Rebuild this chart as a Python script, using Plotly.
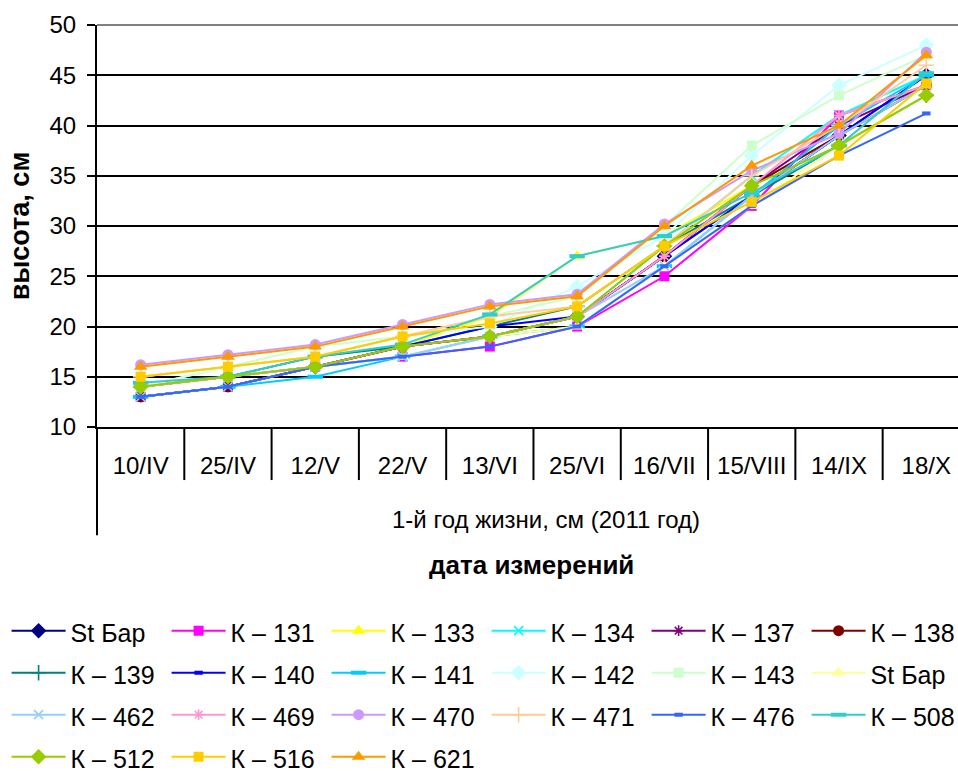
import plotly.graph_objects as go

dates = ["10/IV", "25/IV", "12/V", "22/V", "13/VI", "25/VI", "16/VII", "15/VIII", "14/IX", "18/X"]

names = ["St Бар", "К – 131", "К – 133", "К – 134", "К – 137", "К – 138",
         "К – 139", "К – 140", "К – 141", "К – 142", "К – 143", "St Бар",
         "К – 462", "К – 469", "К – 470", "К – 471", "К – 476", "К – 508",
         "К – 512", "К – 516", "К – 621"]

st_bar   = [14, 15, 16, 18, 19, 21, 27, 33, 39, 45]
k131     = [13, 14, 16, 17, 18, 20, 25, 32, 41, 44]
k133     = [14, 16, 17, 18, 21, 27, 29, 34, 39, 44]
k134     = [14, 15, 16, 17, 19, 21, 28, 35, 41, 45]
k137     = [13, 14, 16, 18, 19, 21, 27, 34, 40, 44]
k138     = [13, 14, 16, 18, 19, 21, 27, 34, 39, 44]
k139     = [14, 15, 17, 18, 20, 22, 28, 33, 38, 43]
k140     = [13, 14, 16, 18, 20, 21, 27, 33, 39, 45]
k141     = [13, 14, 15, 17, 19, 20, 26, 33, 40, 45]
k142     = [14, 16, 17, 19, 20, 24, 29, 37, 44, 48]
k143     = [15, 16, 18, 19, 21, 23, 30, 38, 43, 47]
st_bar2  = [14, 15, 16, 17, 19, 20, 26, 32, 38, 43]
k462     = [13, 14, 16, 17, 19, 21, 26, 33, 39, 44]
k469     = [14, 15, 16, 18, 19, 21, 27, 34, 41, 44]
k470     = [16.2, 17.2, 18.2, 20.2, 22.2, 23.2, 30.2, 35.5, 39.2, 47.3]
k471     = [15, 16, 17, 19, 21, 22, 28, 35, 40, 46]
k476     = [13, 14, 16, 17, 18, 20, 26, 32, 37, 41.2]
k508     = [14.4, 15, 17, 18.2, 21.2, 27, 29, 33.3, 38, 45.2]
k512     = [14, 15, 16, 18, 19, 21, 28, 34, 38, 43]
k516     = [15, 16, 17, 19, 20.3, 22, 28, 32.4, 37, 44.2]
k621     = [16, 17, 18, 20, 22, 23, 30, 36, 40, 47]

series_values = [st_bar, k131, k133, k134, k137, k138, k139, k140, k141, k142,
                 k143, st_bar2, k462, k469, k470, k471, k476, k508, k512, k516, k621]

colors = ["#000080", "#FF00FF", "#FFFF00", "#00FFFF", "#800080", "#800000",
          "#008080", "#0000FF", "#00CCFF", "#CCFFFF", "#CCFFCC", "#FFFF99",
          "#99CCFF", "#FF99CC", "#CC99FF", "#FFCC99", "#3366FF", "#33CCCC",
          "#99CC00", "#FFCC00", "#FF9900"]

# (symbol, size, line width)
marker_styles = [
    ("diamond", 12, 0), ("square", 10, 0), ("triangle-up", 12, 0),
    ("x-thin-open", 9, 1.6), ("asterisk-open", 9, 1.6), ("circle", 11, 0),
    ("cross-thin-open", 11, 1.6), ("line-ew-open", 6, 4), ("line-ew-open", 11, 4),
    ("diamond", 12, 0), ("square", 10, 0), ("triangle-up", 12, 0),
    ("x-thin-open", 9, 1.6), ("asterisk-open", 9, 1.6), ("circle", 11, 0),
    ("cross-thin-open", 11, 1.6), ("line-ew-open", 6, 4), ("line-ew-open", 11, 4),
    ("diamond", 12, 0), ("square", 10, 0), ("triangle-up", 12, 0),
]

FONT = "Liberation Sans, Arial, sans-serif"

fig = go.Figure()
for name, vals, col, (sym, sz, lw) in zip(names, series_values, colors, marker_styles):
    fig.add_trace(go.Scatter(
        x=dates, y=vals, mode="lines+markers",
        name='<span style="font-size:25px">' + name + "</span>",
        line=dict(color=col, width=2),
        marker=dict(symbol=sym, size=sz, color=col,
                    line=dict(color=col, width=lw)),
        cliponaxis=False,
    ))

n = len(dates)
shapes = []
# category separators below the axis
for k in range(1, n):
    shapes.append(dict(type="line", xref="x", yref="paper", x0=k - 0.5, x1=k - 0.5,
                       y0=0, y1=-0.132, line=dict(color="black", width=2)))
# left boundary of the category axis block
shapes.append(dict(type="line", xref="paper", yref="paper", x0=0, x1=0,
                   y0=0, y1=-0.269, line=dict(color="black", width=2)))
# top border of plot area
shapes.append(dict(type="line", xref="paper", yref="paper", x0=0, x1=1,
                   y0=1, y1=1, line=dict(color="#808080", width=2)))

fig.update_layout(
    width=958, height=771,
    margin=dict(l=97, r=0, t=25, b=344, autoexpand=False),
    paper_bgcolor="white", plot_bgcolor="white",
    font=dict(family=FONT, size=24, color="black"),
    xaxis=dict(
        type="category", range=[-0.5, 9.363], showgrid=False,
        showline=True, linecolor="black", linewidth=2,
        ticks="", ticklabelstandoff=16,
        tickfont=dict(size=24), fixedrange=True,
    ),
    yaxis=dict(
        range=[10, 50], dtick=5, showgrid=True, gridcolor="black", gridwidth=2,
        showline=True, linecolor="black", linewidth=2,
        ticks="outside", ticklen=8, tickwidth=2, tickcolor="black",
        ticklabelstandoff=6, tickfont=dict(size=24), zeroline=False, fixedrange=True,
    ),
    shapes=shapes,
    annotations=[
        dict(text="<b>высота, см</b>", xref="paper", yref="paper", x=-0.089, y=0.5,
             textangle=-90, showarrow=False, font=dict(size=27, family=FONT),
             xanchor="center", yanchor="middle"),
        dict(text="1-й год жизни, см (2011 год)", xref="paper", yref="paper",
             x=0.522, y=-0.231, showarrow=False, font=dict(size=24, family=FONT),
             xanchor="center", yanchor="middle"),
        dict(text="<b>дата измерений</b>", xref="paper", yref="paper",
             x=0.505, y=-0.343, showarrow=False, font=dict(size=26, family=FONT),
             xanchor="center", yanchor="middle"),
    ],
    legend=dict(
        orientation="h", x=-0.105, xanchor="left", y=-0.442, yanchor="top",
        font=dict(size=30, family=FONT), itemwidth=54, entrywidth=91,
        entrywidthmode="pixels", bgcolor="rgba(0,0,0,0)", traceorder="normal",
        itemclick=False, itemdoubleclick=False,
    ),
    showlegend=True,
)

fig.write_html("out.html")
